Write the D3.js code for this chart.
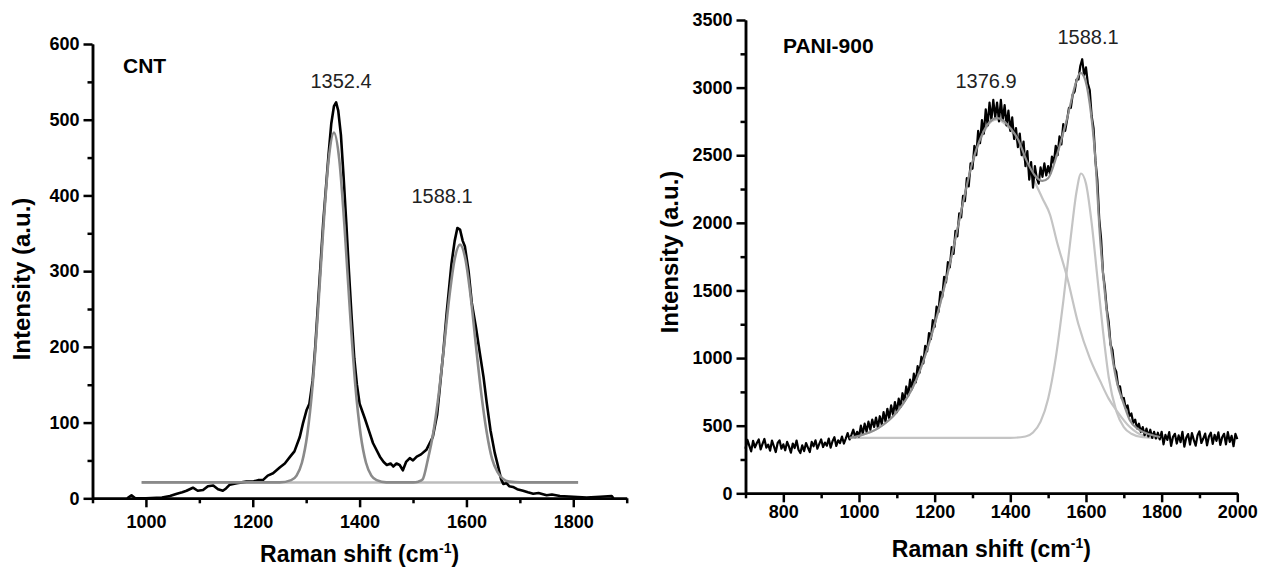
<!DOCTYPE html>
<html>
<head>
<meta charset="utf-8">
<script src="https://cdn.jsdelivr.net/npm/d3@7"></script>
<style>
  body { margin: 0; background: #fff; }
  svg { display: block; font-family: "Liberation Sans", Arial, sans-serif; }
  .axis path, .axis line { stroke: #000; stroke-width: 2.5; }
  .axis text { font-size: 18px; font-weight: bold; fill: #000; }
</style>
</head>
<body>
<svg id="plot"></svg>
<script>
const width = 1264;
const height = 570;

// ---- CNT panel data ----
const cntShift = [965, 973, 980, 1000, 1030, 1045, 1058, 1068, 1076, 1088, 1097, 1107, 1116, 1126, 1135, 1144, 1150, 1157, 1170, 1188, 1200, 1210, 1219, 1228, 1238, 1251, 1260, 1270, 1278, 1288, 1294, 1301, 1306, 1312, 1317, 1322, 1327, 1332, 1337, 1342, 1347, 1352, 1356, 1360, 1365, 1370, 1375, 1380, 1385, 1390, 1395, 1400, 1405, 1410, 1418, 1425, 1438, 1445, 1451, 1458, 1463, 1469, 1475, 1481, 1487, 1494, 1500, 1507, 1515, 1525, 1537, 1545, 1550, 1557, 1563, 1572, 1578, 1583, 1588, 1593, 1597, 1604, 1610, 1618, 1625, 1632, 1638, 1645, 1653, 1660, 1665, 1669, 1675, 1680, 1687, 1695, 1706, 1715, 1725, 1735, 1750, 1760, 1775, 1800, 1825, 1850, 1872, 1875];
const cntIntensity = [0, 4, 0, 0, 1, 3, 6, 8, 10, 14, 10, 11, 16, 17, 12, 10, 13, 18, 20, 22, 22, 24, 24, 30, 33, 41, 46, 55, 62, 81, 99, 117, 125, 155, 200, 255, 310, 365, 410, 455, 495, 518, 523, 512, 480, 425, 365, 300, 240, 185, 150, 125, 115, 105, 88, 73, 55, 48, 44, 46, 42, 46, 44, 37, 48, 53, 50, 55, 58, 64, 81, 110, 145, 195, 245, 310, 340, 357, 355, 340, 333, 300, 258, 225, 192, 160, 126, 90, 60, 40, 25, 19, 20, 16, 15, 12, 10, 8, 6, 7, 4, 5, 3, 2, 1, 2, 3, 0];

const cntFitShift = [992, 1250, 1272, 1282, 1292, 1302, 1312, 1322, 1332, 1342, 1352, 1362, 1372, 1382, 1392, 1402, 1412, 1422, 1432, 1450, 1500, 1510, 1518, 1528, 1538, 1548, 1558, 1568, 1578, 1588, 1598, 1608, 1618, 1628, 1638, 1648, 1658, 1668, 1680, 1700, 1809];
const cntFitIntensity = [21, 21, 24, 30, 47, 84, 149, 246, 356, 447, 483, 447, 356, 246, 149, 84, 47, 30, 24, 21, 21, 22, 25, 52, 87, 137, 200, 266, 316, 335, 316, 266, 200, 137, 87, 52, 35, 26, 22, 21, 21];

const cntBaseShift = [992, 1809];
const cntBaseIntensity = [21, 21];

const cntXTicks = [1000, 1200, 1400, 1600, 1800];
const cntXMinor = [900, 1100, 1300, 1500, 1700, 1900];
const cntYTicks = [0, 100, 200, 300, 400, 500, 600];
const cntYMinor = [50, 150, 250, 350, 450, 550];

// ---- PANI-900 panel data ----
const paniShift = d3.range(700, 2001, 5);
const paniIntensity = [
  330, 395, 352, 310, 388, 340, 372, 398, 325, 365,
  402, 338, 360, 315, 390, 348, 305, 372, 392, 330,
  362, 318, 380, 345, 300, 368, 335, 390, 322, 298,
  355, 312, 372, 338, 305, 380, 348, 392, 330, 365,
  398, 342, 375, 352, 405, 338, 385, 415, 350, 392,
  372, 420, 368, 405, 445, 398, 432, 470, 415, 455,
  420, 500, 440, 515, 455, 530, 470, 545, 490, 560,
  485, 570, 510, 600, 530, 625, 555, 650, 580, 675,
  600, 700, 640, 740, 680, 790, 720, 840, 770, 885,
  820, 940, 890, 1010, 960, 1090, 1050, 1185, 1140, 1280,
  1230, 1380, 1340, 1490, 1450, 1600, 1560, 1710, 1670, 1820,
  1770, 1940, 1900, 2070, 2040, 2200, 2160, 2330, 2270, 2440,
  2400, 2570, 2500, 2680, 2590, 2760, 2660, 2840, 2720, 2890,
  2760, 2910, 2780, 2890, 2750, 2910, 2760, 2870, 2720, 2830,
  2680, 2780, 2620, 2700, 2560, 2660, 2500, 2600, 2420, 2530,
  2320, 2450, 2260, 2420, 2330, 2290, 2410, 2340, 2440, 2350,
  2420, 2360, 2490, 2440, 2570, 2500, 2640, 2580, 2730, 2680,
  2760, 2850, 2850, 2950, 2970, 3060, 3060, 3160, 3210, 3090,
  3150, 3030, 2980, 2790, 2700, 2460, 2320, 2030, 1880, 1630,
  1520, 1360, 1270, 1100, 1060, 930, 900, 790, 790, 700,
  705, 630, 650, 570, 590, 520, 545, 480, 515, 455,
  490, 430, 478, 420, 470, 410, 455, 405, 448, 398,
  455, 362, 432, 395, 452, 350, 418, 440, 368, 428,
  378, 455, 345, 410, 438, 360, 445, 395, 352, 430,
  458, 372, 405, 442, 355, 420, 448, 365, 432, 388,
  450, 358, 415, 440, 362, 452, 380, 425, 348, 440,
  400
];

const paniFitShift = [975, 1000, 1050, 1100, 1150, 1200, 1250, 1275, 1300, 1325, 1350, 1365, 1380, 1400, 1420, 1443, 1465, 1485, 1500, 1523, 1549, 1575, 1585, 1595, 1610, 1624, 1637, 1650, 1665, 1681, 1700, 1716, 1740, 1770, 1796];
const paniFitIntensity = [410, 425, 480, 600, 830, 1250, 1820, 2150, 2450, 2650, 2760, 2775, 2760, 2700, 2620, 2460, 2350, 2310, 2330, 2500, 2760, 3050, 3110, 3080, 2880, 2500, 1900, 1480, 1100, 830, 660, 540, 470, 435, 416];

const paniPeak1Shift = [975, 1000, 1050, 1100, 1150, 1200, 1250, 1275, 1300, 1325, 1350, 1365, 1380, 1400, 1420, 1443, 1465, 1485, 1505, 1523, 1550, 1580, 1610, 1637, 1660, 1681, 1716, 1751, 1796];
const paniPeak1Intensity = [410, 425, 480, 600, 830, 1250, 1820, 2150, 2440, 2640, 2750, 2765, 2745, 2690, 2590, 2430, 2300, 2180, 2060, 1862, 1600, 1250, 1000, 833, 700, 612, 490, 429, 416];

const paniPeak2Shift = [975, 1400, 1440, 1460, 1480, 1500, 1520, 1540, 1560, 1575, 1587, 1600, 1615, 1630, 1645, 1660, 1680, 1700, 1720, 1750, 1800];
const paniPeak2Intensity = [410, 410, 420, 450, 530, 700, 1000, 1420, 1900, 2230, 2365, 2290, 2000, 1600, 1200, 860, 610, 490, 440, 415, 410];

const paniXTicks = [800, 1000, 1200, 1400, 1600, 1800, 2000];
const paniXMinor = [700, 900, 1100, 1300, 1500, 1700, 1900];
const paniYTicks = [0, 500, 1000, 1500, 2000, 2500, 3000, 3500];
const paniYMinor = [250, 750, 1250, 1750, 2250, 2750, 3250];

const svg = d3.select('#plot').attr('width', width).attr('height', height);

function zip(xs, ys){ return xs.map((x, i) => [x, ys[i]]); }

function drawPanel(cfg){
  const sx = d3.scaleLinear().domain(cfg.xDomain).range(cfg.xRange);
  const sy = d3.scaleLinear().domain(cfg.yDomain).range(cfg.yRange);
  const g = svg.append('g');

  const smooth = d3.line().x(d => sx(d[0])).y(d => sy(d[1])).curve(d3.curveMonotoneX);
  const raw = d3.line().x(d => sx(d[0])).y(d => sy(d[1]));

  const drawFit = f => {
    g.append('path')
    .datum(f.data)
    .attr('d', smooth)
    .attr('fill', 'none')
    .attr('stroke', f.color)
    .attr('stroke-width', f.width);
  };

  cfg.fits.forEach(drawFit);

  g.append('path')
  .datum(cfg.raw)
  .attr('d', raw)
  .attr('fill', 'none')
  .attr('stroke', '#000')
  .attr('stroke-width', cfg.rawWidth)
  .attr('stroke-linejoin', 'round');

  // the cumulative fit is drawn over the measured spectrum
  cfg.topFits.forEach(drawFit);

  // axes: minor ticks first, then major ticks with labels
  const y0 = cfg.yRange[0], x0 = cfg.xRange[0];
  g.append('g').attr('class', 'axis')
  .attr('transform', `translate(0,${y0})`)
  .call(d3.axisBottom(sx).tickValues(cfg.xMinor).tickSize(5).tickSizeOuter(0).tickFormat(''));
  g.append('g').attr('class', 'axis')
  .attr('transform', `translate(0,${y0})`)
  .call(d3.axisBottom(sx).tickValues(cfg.xTicks).tickSize(9).tickSizeOuter(0).tickPadding(cfg.xPad).tickFormat(d3.format('d')));

  g.append('g').attr('class', 'axis')
  .attr('transform', `translate(${x0},0)`)
  .call(d3.axisLeft(sy).tickValues(cfg.yMinor).tickSize(5).tickSizeOuter(0).tickFormat(''));
  g.append('g').attr('class', 'axis')
  .attr('transform', `translate(${x0},0)`)
  .call(d3.axisLeft(sy).tickValues(cfg.yTicks).tickSize(9).tickSizeOuter(0).tickPadding(4).tickFormat(d3.format('d')));

  // axis titles
  const xt = g.append('text')
  .attr('x', (cfg.xRange[0] + cfg.xRange[1]) / 2)
  .attr('y', cfg.xTitleY)
  .attr('text-anchor', 'middle')
  .style('font-size', '23px')
  .style('font-weight', 'bold')
  .text('Raman shift (cm');
  xt.append('tspan').attr('dy', -9).style('font-size', '14px').text('-1');
  xt.append('tspan').attr('dy', 9).text(')');

  g.append('text')
  .attr('transform', `translate(${cfg.yTitleX},${cfg.yTitleY}) rotate(-90)`)
  .attr('text-anchor', 'middle')
  .attr('dy', '0.35em')
  .style('font-size', '24px')
  .style('font-weight', 'bold')
  .text('Intensity (a.u.)');

  g.append('text')
  .attr('x', cfg.name.x).attr('y', cfg.name.y)
  .style('font-size', '21px')
  .style('font-weight', 'bold')
  .text(cfg.name.text);

  cfg.peaks.forEach(p => {
    g.append('text')
    .attr('x', p.x).attr('y', p.y)
    .attr('text-anchor', 'middle')
    .style('font-size', '20px')
    .style('fill', '#222')
    .text(p.text);
  });
}

drawPanel({
  xDomain: [900, 1900], xRange: [92.5, 626.7],
  yDomain: [0, 600], yRange: [498.3, 44],
  xTicks: cntXTicks, xMinor: cntXMinor, yTicks: cntYTicks, yMinor: cntYMinor,
  xPad: 8,
  raw: zip(cntShift, cntIntensity), rawWidth: 2.6,
  fits: [
    {data: zip(cntBaseShift, cntBaseIntensity), color: '#bdbdbd', width: 2.5}
  ],
  topFits: [
    {data: zip(cntFitShift, cntFitIntensity), color: '#8a8a8a', width: 2.6}
  ],
  xTitleY: 562, yTitleX: 22, yTitleY: 279,
  name: {text: 'CNT', x: 123, y: 73},
  peaks: [
    {text: '1352.4', x: 341, y: 88},
    {text: '1588.1', x: 442, y: 203}
  ]
});

drawPanel({
  xDomain: [700, 2000], xRange: [745.5, 1237.3],
  yDomain: [0, 3500], yRange: [493.3, 20],
  xTicks: paniXTicks, xMinor: paniXMinor, yTicks: paniYTicks, yMinor: paniYMinor,
  xPad: 3,
  raw: zip(paniShift, paniIntensity), rawWidth: 2.2,
  fits: [
    {data: zip(paniPeak2Shift, paniPeak2Intensity), color: '#c4c4c4', width: 2.2},
    {data: zip(paniPeak1Shift, paniPeak1Intensity), color: '#c4c4c4', width: 2.2}
  ],
  topFits: [
    {data: zip(paniFitShift, paniFitIntensity), color: '#8f8f8f', width: 2.2}
  ],
  xTitleY: 557, yTitleX: 670, yTitleY: 252,
  name: {text: 'PANI-900', x: 783, y: 53},
  peaks: [
    {text: '1376.9', x: 986, y: 88},
    {text: '1588.1', x: 1088, y: 44}
  ]
});
</script>
</body>
</html>
